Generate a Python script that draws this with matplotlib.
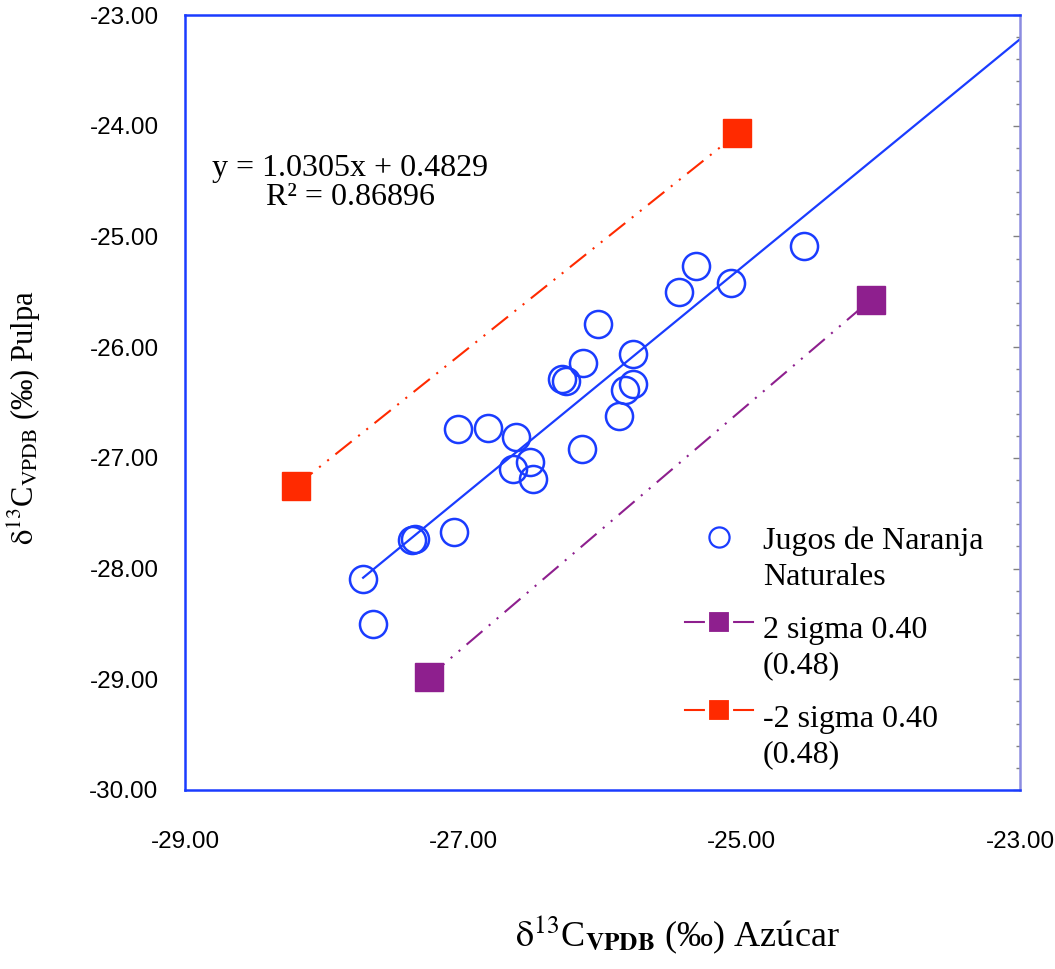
import matplotlib
matplotlib.use("Agg")
import matplotlib.pyplot as plt
import numpy as np
from matplotlib.ticker import FixedLocator, MultipleLocator, FormatStrFormatter
from matplotlib.legend_handler import HandlerLine2D


plt.rcParams["mathtext.fontset"] = "stix"


# Data

azucar = [-27.72, -27.65, -27.37, -27.35, -27.07, -27.04, -26.82, -26.62,
          -26.64, -26.52, -26.50, -26.29, -26.26, -26.14, -26.15, -26.03,
          -25.88, -25.84, -25.78, -25.78, -25.45, -25.33, -25.08, -24.55]

pulpa = [-28.09, -28.50, -27.74, -27.73, -27.67, -26.74, -26.73, -26.81,
         -27.10, -27.04, -27.19, -26.29, -26.31, -26.14, -26.92, -25.79,
         -26.62, -26.39, -26.33, -26.06, -25.50, -25.27, -25.42, -25.09]

sigma_up_x = [-28.20, -25.03]
sigma_up_y = [-27.25, -24.07]

sigma_down_x = [-27.25, -24.07]
sigma_down_y = [-28.98, -25.57]

slope = 1.0305
intercept = 0.4829
r2 = 0.86896

x_ticks = [-29, -27, -25, -23]
y_ticks = [-30, -29, -28, -27, -26, -25, -24, -23]


# Colours

BLUE = "#1a3cff"
RED = "#ff2a00"
PURPLE = "#8e1f8e"


class RaisedHandler(HandlerLine2D):
    """Line handler that lifts the handle to the first line of a 2-line label."""

    def __init__(self, dy=0, **kw):
        super().__init__(**kw)
        self.dy = dy

    def create_artists(self, legend, orig_handle, xdescent, ydescent,
                       width, height, fontsize, trans):
        artists = super().create_artists(legend, orig_handle, xdescent,
                                         ydescent, width, height, fontsize,
                                         trans)
        for a in artists:
            a.set_ydata(np.asarray(a.get_ydata()) + self.dy)
        return artists


W, H = 1055, 969
fig = plt.figure(figsize=(W / 100, H / 100), dpi=100)
ax = fig.add_axes([185 / W, 1 - 790 / H, 835 / W, 775 / H])

ax.set_xlim(-29, -23)
ax.set_ylim(-30, -23)


# Regression line

fit_x = np.array([min(azucar), -23])
ax.plot(fit_x, slope * fit_x + intercept, color=BLUE, lw=1.6, zorder=2)


# Sigma lines

dash = (10, 4, 1, 4, 1, 4)

up_line, = ax.plot(sigma_up_x, sigma_up_y, color=RED, lw=1.5,
                   dashes=dash, marker="s", ms=19.5, mfc=RED, mec=RED,
                   label="-2 sigma 0.40\n(0.48)", zorder=3)

down_line, = ax.plot(sigma_down_x, sigma_down_y, color=PURPLE, lw=1.5,
                     dashes=dash, marker="s", ms=19.5, mfc=PURPLE,
                     mec=PURPLE, label="2 sigma 0.40\n(0.48)", zorder=3)


# Samples

pts, = ax.plot(azucar, pulpa, ls="none", marker="o", ms=19.5, mfc="none",
               mec=BLUE, mew=1.8, label="Jugos de Naranja\nNaturales",
               zorder=4)


# Axes styling

ax.xaxis.set_major_locator(FixedLocator(x_ticks))
ax.yaxis.set_major_locator(FixedLocator(y_ticks))
ax.yaxis.set_minor_locator(MultipleLocator(0.2))
ax.xaxis.set_major_formatter(FormatStrFormatter("%.2f"))
ax.yaxis.set_major_formatter(FormatStrFormatter("%.2f"))

ax.tick_params(axis="x", which="both", bottom=False, top=False,
               labelsize=17.5, pad=26)
ax.tick_params(axis="y", which="both", direction="in", left=False,
               right=True, labelleft=True, labelright=False,
               colors="#808080", labelcolor="black", labelsize=17.5, pad=19)
ax.tick_params(axis="y", which="major", length=5, width=1)
ax.tick_params(axis="y", which="minor", length=3, width=1)

for lab in ax.get_xticklabels() + ax.get_yticklabels():
    lab.set_family("Liberation Sans")

for side in ["left", "bottom", "top"]:
    ax.spines[side].set_color(BLUE)
    ax.spines[side].set_linewidth(1.8)
ax.spines["right"].set_color("#8c8ce0")
ax.spines["right"].set_linewidth(1.8)


# Axis labels

ax.set_xlabel(r"$\mathrm{\delta}^{13}$C$_{\mathbf{VPDB}}$ (‰) Azúcar",
              family="Liberation Serif", fontsize=26)
ax.xaxis.set_label_coords((677 - 185) / 835, (790 - 914) / 775)

ax.set_ylabel(r"$\mathrm{\delta}^{13}$C$_{\mathrm{VPDB}}$ (‰) Pulpa",
              family="Liberation Serif", fontsize=22)
ax.yaxis.set_label_coords((43 - 185) / 835, (790 - 418) / 775)


# Regression equation

fig.text(350 / W, 1 - 183 / H,
         f"y = {slope}x + {intercept}\nR² = {r2}",
         family="Liberation Serif", fontsize=23, ha="center", va="center",
         multialignment="center", linespacing=1.03)


# Legend

leg = ax.legend(handles=[pts, down_line, up_line],
                handler_map={pts: RaisedHandler(dy=16),
                             down_line: RaisedHandler(dy=19),
                             up_line: RaisedHandler(dy=19)},
                loc="upper left",
                bbox_to_anchor=(685 / W, 1 - 527 / H),
                bbox_transform=fig.transFigure,
                frameon=False, numpoints=1, borderpad=0, borderaxespad=0,
                handlelength=2.13, handletextpad=0.3, labelspacing=0.75,
                prop={"family": "Liberation Serif", "size": 23})

for txt in leg.get_texts():
    txt.set_linespacing(1.3)

handles = leg.get_lines()
handles[0].set_markersize(14.5)
handles[0].set_markeredgewidth(1.6)
# sigma handles: solid line, white ring leaves a small gap at the square
for line in handles[1:]:
    line.set_linestyle("-")
    line.set_markersize(17)
    line.set_markeredgecolor("white")
    line.set_markeredgewidth(3)

plt.savefig("out.png", dpi=100)
